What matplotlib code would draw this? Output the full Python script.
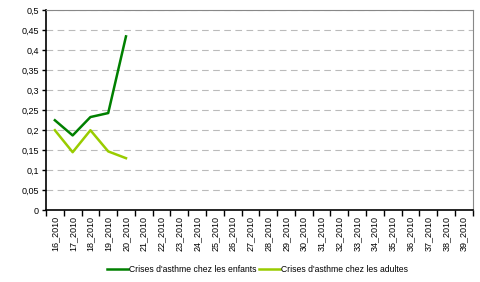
import numpy as np
import matplotlib.pyplot as plt

weeks = ['%d_2010' % w for w in range(16, 40)]
enfants = [0.225, 0.187, 0.233, 0.243, 0.435]
adultes = [0.2, 0.145, 0.2, 0.147, 0.13]
yticks = np.arange(0, 0.51, 0.05)
ylabels = ['0', '0,05', '0,1', '0,15', '0,2', '0,25', '0,3', '0,35', '0,4', '0,45', '0,5']

plt.rcParams['font.family'] = ['Liberation Sans', 'DejaVu Sans']

fig = plt.figure(figsize=(4.81, 2.82), dpi=100)
ax = fig.add_axes([0.0956, 0.255, 0.887, 0.708])

x = np.arange(len(weeks))
ax.plot(x[:len(enfants)], enfants, color='#008000', lw=1.8,
        label="Crises d'asthme chez les enfants")
ax.plot(x[:len(adultes)], adultes, color='#99cc00', lw=1.8,
        label="Crises d'asthme chez les adultes")

ax.set_xlim(-0.5, len(weeks) - 0.5)
ax.set_ylim(0, 0.5)
ax.set_yticks(yticks)
ax.set_yticklabels(ylabels, fontsize=6.5)
ax.set_xticks(x)
ax.set_xticklabels(weeks, rotation=90, fontsize=6.5)
ax.set_xticks(np.arange(-0.5, len(weeks)), minor=True)
ax.tick_params(axis='x', which='major', length=0, pad=4)
ax.tick_params(axis='x', which='minor', length=4, direction='out', width=1)
ax.tick_params(axis='y', length=3, width=1, pad=2)

ax.grid(axis='y', color='#bbbbbb', linestyle=(0, (6, 4)), lw=0.8)
for s in ['left', 'bottom']:
    ax.spines[s].set_linewidth(1.2)
    ax.spines[s].set_color('black')
for s in ['top', 'right']:
    ax.spines[s].set_color('#888888')
    ax.spines[s].set_linewidth(0.8)

fig.legend(loc='center', bbox_to_anchor=(0.535, 0.043), ncol=2, frameon=False,
           fontsize=6.2, handlelength=2.4, columnspacing=0.3, handletextpad=0.15)

fig.savefig('out.png', dpi=100)
